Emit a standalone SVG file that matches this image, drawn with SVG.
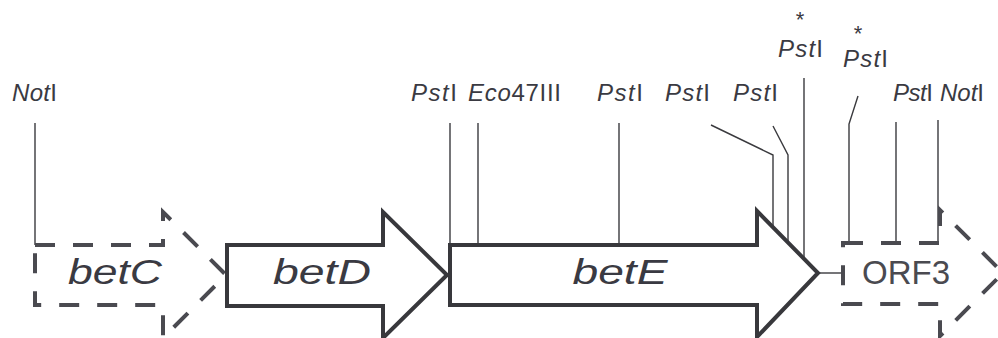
<svg xmlns="http://www.w3.org/2000/svg" width="998" height="338" viewBox="0 0 998 338">
<style>
.lbl{font-family:"Liberation Sans",Arial,sans-serif;font-size:24px;fill:#3a3a42}
.it{font-style:italic}
.star{font-family:"Liberation Sans",Arial,sans-serif;font-size:22px;fill:#3a3a42}
.site{stroke:#3a3a3e;stroke-width:1.4;fill:none}
.gene{fill:#fff;stroke:#38383c;stroke-width:4;stroke-linejoin:miter}
.dash{fill:none;stroke:#4a4a50;stroke-width:4;stroke-dasharray:20 18}
.gl{font-family:"Liberation Sans",Arial,sans-serif;font-size:35px;font-style:italic;fill:#3a3a42}
.orf{font-family:"Liberation Sans",Arial,sans-serif;font-size:33px;fill:#4a4a50}
</style>
<rect width="998" height="338" fill="#fff"/>
<g id="connectors">
<line class="site" x1="35" y1="123" x2="35" y2="245"/>
<line class="site" x1="450" y1="123" x2="450" y2="245"/>
<line class="site" x1="478" y1="123" x2="478" y2="245"/>
<line class="site" x1="619" y1="123" x2="619" y2="245"/>
<polyline class="site" points="711,125 773,155 773,227"/>
<polyline class="site" points="773,126 788,155 788,242"/>
<line class="site" x1="804" y1="78" x2="804" y2="258"/>
<polyline class="site" points="858,96 849,124 849,243"/>
<line class="site" x1="896" y1="122" x2="896" y2="243"/>
<line class="site" x1="938" y1="120" x2="938" y2="243"/>
<line class="site" x1="818" y1="273" x2="843" y2="273" stroke-width="2"/>
</g>
<g id="labels">
<text class="lbl" x="12" y="101" textLength="45"><tspan class="it">Not</tspan>I</text>
<text class="lbl" x="411" y="101" textLength="46"><tspan class="it">Pst</tspan>I</text>
<text class="lbl" x="468" y="101" textLength="93"><tspan class="it">Eco</tspan>47III</text>
<text class="lbl" x="597" y="101" textLength="46"><tspan class="it">Pst</tspan>I</text>
<text class="lbl" x="665" y="101" textLength="45"><tspan class="it">Pst</tspan>I</text>
<text class="lbl" x="733" y="101" textLength="45"><tspan class="it">Pst</tspan>I</text>
<text class="star" x="800" y="27" text-anchor="middle">*</text>
<text class="lbl" x="778" y="57" textLength="45"><tspan class="it">Pst</tspan>I</text>
<text class="star" x="858" y="41" text-anchor="middle">*</text>
<text class="lbl" x="843" y="67" textLength="45"><tspan class="it">Pst</tspan>I</text>
<text class="lbl" x="893" y="101" textLength="40"><tspan class="it">Pst</tspan>I</text>
<text class="lbl" x="940" y="101" textLength="44"><tspan class="it">Not</tspan>I</text>
</g>
<g id="betC">
<path class="dash" d="M35,245 H163 V212 L226,275 L163,338 V305 H35 Z"/>
<text class="gl" x="115" y="284" text-anchor="middle" textLength="94" lengthAdjust="spacingAndGlyphs">betC</text>
</g>
<g id="betD">
<path class="gene" d="M227,245 H383 V212 L447,275 L383,338 V306 H227 Z"/>
<text class="gl" x="322" y="284" text-anchor="middle" textLength="98" lengthAdjust="spacingAndGlyphs">betD</text>
</g>
<g id="betE">
<path class="gene" d="M450,245 H757 V211 L818,273 L757,337 V305 H450 Z"/>
<text class="gl" x="620" y="284" text-anchor="middle" textLength="95" lengthAdjust="spacingAndGlyphs">betE</text>
</g>
<g id="ORF3">
<path class="dash" d="M843,243 H940 V210 L1003,273 L940,336 V304 H843 Z"/>
<text class="orf" x="906" y="284" text-anchor="middle">ORF3</text>
</g>
</svg>
